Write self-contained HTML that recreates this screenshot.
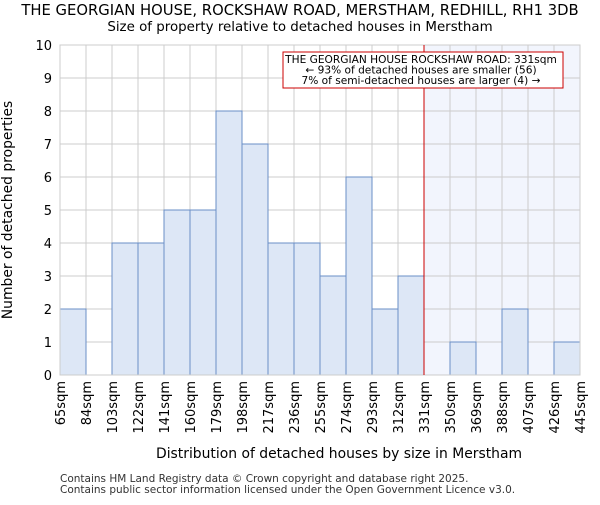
<!DOCTYPE html>
<html><head><meta charset="utf-8"><style>body{margin:0;background:#fff}svg{font-family:"DejaVu Sans","Liberation Sans",sans-serif}</style></head>
<body>
<svg id="c" width="600" height="500">
<text x="300" y="15" text-anchor="middle" font-size="14.8">THE GEORGIAN HOUSE, ROCKSHAW ROAD, MERSTHAM, REDHILL, RH1 3DB</text>
<text x="300" y="31" text-anchor="middle" font-size="13.4">Size of property relative to detached houses in Merstham</text>
<g id="plot"></g>
<text x="339" y="458" text-anchor="middle" font-size="13.9">Distribution of detached houses by size in Merstham</text>
<text transform="translate(12,210) rotate(-90)" text-anchor="middle" font-size="13.9">Number of detached properties</text>
<text x="60" y="482" font-size="10.5" fill="#333">Contains HM Land Registry data © Crown copyright and database right 2025.</text>
<text x="60" y="493" font-size="10.5" fill="#333">Contains public sector information licensed under the Open Government Licence v3.0.</text>
</svg>
<script>
const edges=["65sqm","84sqm","103sqm","122sqm","141sqm","160sqm","179sqm","198sqm","217sqm","236sqm","255sqm","274sqm","293sqm","312sqm","331sqm","350sqm","369sqm","388sqm","407sqm","426sqm","445sqm"];
const counts=[2,0,4,4,5,5,8,7,4,4,3,6,2,3,0,1,0,2,0,1];
const yTicks=[0,1,2,3,4,5,6,7,8,9,10];
const markerIndex=14;
const NS="http://www.w3.org/2000/svg";
const g=document.getElementById('plot');
const L=60,R=580,T=45,B=375,n=counts.length,bw=(R-L)/n;
const x=i=>L+i*bw, y=v=>B-(v/10)*(B-T);
function el(t,a,p){const e=document.createElementNS(NS,t);for(const k in a)e.setAttribute(k,a[k]);(p||g).appendChild(e);return e;}
const sh=el('rect',{x:x(markerIndex),y:T,width:R-x(markerIndex),height:B-T,fill:'#f2f5fd'});


yTicks.forEach(v=>{const l=el('line',{x1:L,x2:R,y1:y(v),y2:y(v),stroke:'#ccc'});


const t=el('text',{x:L-8,y:y(v)+5,'text-anchor':'end','font-size':13});t.textContent=v;

});
edges.forEach((e,i)=>{const l=el('line',{x1:x(i),x2:x(i),y1:T,y2:B,stroke:'#ccc'});


const t=el('text',{transform:`translate(${x(i)+5},${B+6}) rotate(-90)`,'text-anchor':'end','font-size':13});t.textContent=e;

});
counts.forEach((c,i)=>{if(!c)return;const r=el('rect',{x:x(i),y:y(c),width:bw,height:B-y(c),fill:'#dde7f6',stroke:'#6a8fc7','stroke-width':1});

});
const ax=el('rect',{x:L,y:T,width:R-L,height:B-T,fill:'none',stroke:'#ccc'});


const ml=el('line',{x1:x(markerIndex),x2:x(markerIndex),y1:T,y2:B,stroke:'#cc0000','stroke-width':1});


const bx=el('rect',{x:283,y:52,width:280,height:36,fill:'#fff',stroke:'#cc0000'});


["THE GEORGIAN HOUSE ROCKSHAW ROAD: 331sqm","← 93% of detached houses are smaller (56)","7% of semi-detached houses are larger (4) →"].forEach((s,i)=>{const t=el('text',{x:421,y:63+i*10.5,'text-anchor':'middle','font-size':10.6});t.textContent=s;

});
</script>
</body></html>
